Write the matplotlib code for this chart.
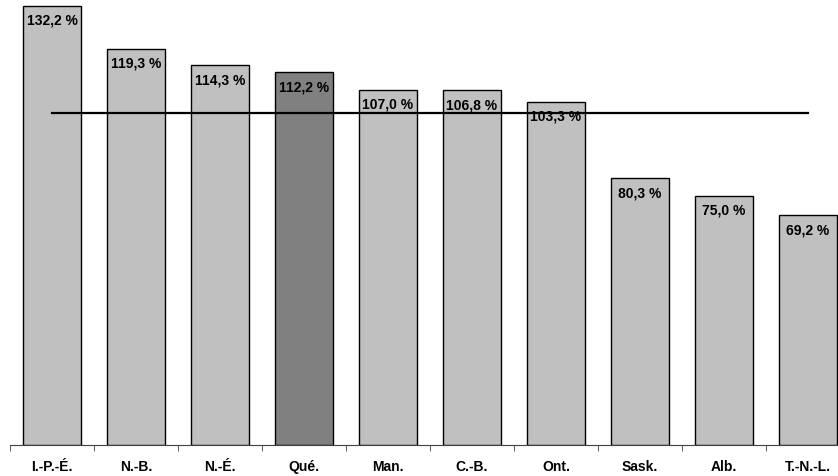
import matplotlib.pyplot as plt
import numpy as np

provinces = ['I.-P.-É.', 'N.-B.', 'N.-É.', 'Qué.', 'Man.', 'C.-B.', 'Ont.', 'Sask.', 'Alb.', 'T.-N.-L.']
values = [132.2, 119.3, 114.3, 112.2, 107.0, 106.8, 103.3, 80.3, 75.0, 69.2]
reference = 100.0
highlight = 'Qué.'

plt.rcParams['font.family'] = ['Liberation Sans', 'DejaVu Sans']

fig = plt.figure(figsize=(8.38, 4.77), dpi=100)
ax = fig.add_axes([10 / 838, 31 / 477, 840 / 838, 446 / 477])

x = np.arange(len(provinces))
colors = ['#808080' if p == highlight else '#c0c0c0' for p in provinces]
ax.bar(x, values, width=0.68, color=colors, edgecolor='black', linewidth=1)

# reference line at 100 %, from first bar centre to last
ax.plot([x[0], x[-1]], [reference, reference], color='black', linewidth=1.6)

for xi, v in zip(x, values):
    label = f'{v:.1f} %'.replace('.', ',')
    ax.annotate(label, (xi, v), xytext=(0, -5), textcoords='offset points',
                ha='center', va='top', fontsize=10, fontweight='bold')

ax.set_xlim(-0.5, len(provinces) - 0.5)
ax.set_ylim(0, 134.3)

ax.set_xticks(x)
ax.set_xticklabels(provinces, fontsize=10, fontweight='bold')
ax.tick_params(axis='x', which='major', length=0, pad=10)
ax.set_xticks(np.arange(len(provinces) + 1) - 0.5, minor=True)
ax.tick_params(axis='x', which='minor', length=4, color='#404040')
ax.set_yticks([])

for s in ['top', 'right', 'left']:
    ax.spines[s].set_visible(False)
ax.spines['bottom'].set_color('#404040')

plt.savefig('out.png')
